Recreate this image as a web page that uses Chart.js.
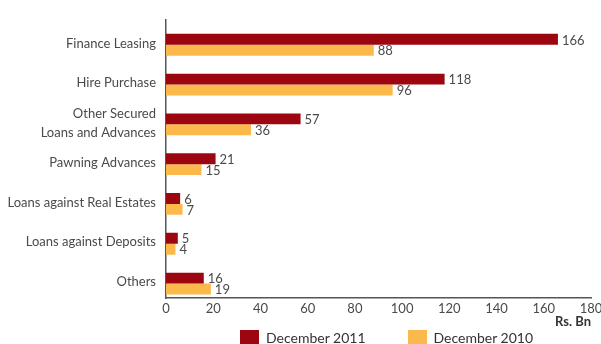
<!DOCTYPE html>
<html lang="en">
<head>
<meta charset="utf-8"/>
<title>Loans and Advances</title>
<style>
  body { margin: 0; padding: 0; background: #fff; font-family: Lato, sans-serif; }
  #wrap { position: relative; width: 601px; height: 344px; overflow: hidden; }
  #legend { position: absolute; left: 240px; top: 330px; display: flex; }
  #legend .item { display: flex; align-items: flex-start; margin-right: 42px; }
  #legend .box { width: 19px; height: 19px; margin-right: 7px; }
  #legend .txt { font-size: 14px; color: #333; line-height: 16px; margin-top: 0; }
</style>
</head>
<body>
<div id="wrap">
  <canvas id="chart" width="601" height="344"></canvas>
  <div id="legend"></div>
</div>
<script src="https://cdn.jsdelivr.net/npm/chart.js"></script>
<script>
const categories = [
  "Finance Leasing",
  "Hire Purchase",
  ["Other Secured", "Loans and Advances"],
  "Pawning Advances",
  "Loans against Real Estates",
  "Loans against Deposits",
  "Others"
];
const dec2011 = [166, 118, 57, 21, 6, 5, 16];
const dec2010 = [88, 96, 36, 15, 7, 4, 19];
const xTicks = [0, 20, 40, 60, 80, 100, 120, 140, 160, 180];

const RED = "#9c0610";
const ORANGE = "#fbb84b";
const TEXT = "#4a4a4a";

// draws the numbers at the end of each bar
const valueLabels = {
  id: "valueLabels",
  afterDatasetsDraw(chart) {
    const ctx = chart.ctx;
    ctx.save();
    ctx.font = "13px Lato, sans-serif";
    ctx.fillStyle = TEXT;
    ctx.textAlign = "left";
    ctx.textBaseline = "middle";
    chart.data.datasets.forEach((ds, i) => {
      if (ds.spacer) return;
      chart.getDatasetMeta(i).data.forEach((bar, j) => {
        ctx.fillText(ds.data[j], bar.x + 4, bar.y + 1);
      });
    });
    ctx.restore();
  }
};

const chart = new Chart(document.getElementById("chart"), {
  type: "bar",
  data: {
    labels: categories,
    datasets: [
      // empty slot so the pair of bars sits low in each row, like the original
      { label: "", data: [], spacer: true },
      { label: "December 2011", data: dec2011, backgroundColor: RED },
      { label: "December 2010", data: dec2010, backgroundColor: ORANGE }
    ]
  },
  options: {
    indexAxis: "y",
    responsive: false,
    animation: false,
    categoryPercentage: 0.822,
    barPercentage: 1,
    layout: { padding: { top: 17, right: 10, left: 0, bottom: 0 } },
    plugins: { legend: { display: false }, tooltip: { enabled: false } },
    scales: {
      x: {
        min: 0,
        max: 180,
        afterBuildTicks: s => { s.ticks = xTicks.map(v => ({ value: v })); },
        afterFit: s => { s.height = 46; s.paddingLeft = 0; s.paddingRight = 0; },
        grid: { display: false, drawTicks: false },
        border: { display: true, color: "#555", width: 1.5 },
        ticks: { color: TEXT, font: { family: "Lato", size: 13 }, padding: 3, maxRotation: 0 },
        title: {
          display: true,
          text: "Rs. Bn",
          align: "end",
          color: "#333",
          font: { family: "Lato", size: 13, weight: "bold" },
          padding: { top: 0, bottom: 14 }
        }
      },
      y: {
        afterFit: s => { s.width = 166; },
        grid: { display: false, drawTicks: false },
        border: { display: true, color: "#555", width: 1.5 },
        ticks: {
          color: TEXT,
          autoSkip: false,
          font: { family: "Lato", size: 13, lineHeight: 1.45 },
          padding: 10,
          labelOffset: 4
        }
      }
    }
  },
  plugins: [valueLabels]
});

// legend under the chart
const legend = document.getElementById("legend");
chart.data.datasets.filter(d => !d.spacer).forEach(d => {
  const item = document.createElement("div");
  item.className = "item";
  item.innerHTML = '<div class="box" style="background:' + d.backgroundColor + '"></div><div class="txt">' + d.label + '</div>';
  legend.appendChild(item);
});
</script>
</body>
</html>
